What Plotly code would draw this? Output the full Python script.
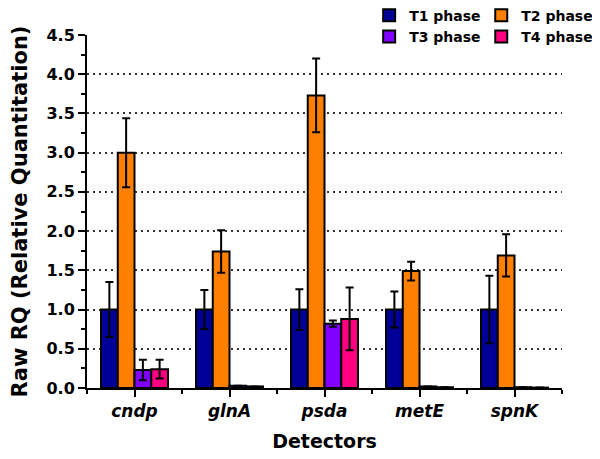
import plotly.graph_objects as go

categories = ["cndp", "glnA", "psda", "metE", "spnK"]
series_names = ["T1 phase", "T2 phase", "T3 phase", "T4 phase"]
t1_values = [1.0, 1.0, 1.0, 1.0, 1.0]
t1_errors = [0.35, 0.25, 0.26, 0.23, 0.43]
t2_values = [3.0, 1.74, 3.73, 1.49, 1.69]
t2_errors = [0.44, 0.27, 0.47, 0.12, 0.27]
t3_values = [0.23, 0.03, 0.82, 0.02, 0.01]
t3_errors = [0.13, 0.0, 0.04, 0.0, 0.0]
t4_values = [0.24, 0.02, 0.88, 0.01, 0.005]
t4_errors = [0.12, 0.0, 0.40, 0.0, 0.0]
y_ticks = [0.0, 0.5, 1.0, 1.5, 2.0, 2.5, 3.0, 3.5, 4.0, 4.5]

colors = ["#000096", "#FF8000", "#8000FF", "#FF0080"]
values = [t1_values, t2_values, t3_values, t4_values]
errors = [t1_errors, t2_errors, t3_errors, t4_errors]
legend_ids = ["legend", "legend2", "legend", "legend2"]

FONT = "DejaVu Sans"
x_pos = list(range(len(categories)))

fig = go.Figure()
for name, vals, errs, col, lg in zip(series_names, values, errors, colors, legend_ids):
    fig.add_trace(go.Bar(
        name=name, x=x_pos, y=vals,
        marker=dict(color=col, line=dict(color="black", width=2)),
        error_y=dict(type="data", array=errs, visible=True,
                     color="black", thickness=2, width=4),
        legend=lg,
    ))

legend_common = dict(
    orientation="v", yanchor="top", xanchor="left",
    font=dict(family=FONT, size=14, color="black", weight="bold"),
    bgcolor="rgba(0,0,0,0)", borderwidth=0, tracegroupgap=0,
    itemclick=False, itemdoubleclick=False,
)

fig.update_layout(
    width=600, height=459,
    margin=dict(l=79, r=46, t=27, b=79, autoexpand=False),
    plot_bgcolor="white", paper_bgcolor="white",
    barmode="group", bargap=0.295, bargroupgap=0.0,
    font=dict(family=FONT, color="black"),
    legend=dict(x=0.594, y=1.100, **legend_common),
    legend2=dict(x=0.830, y=1.100, **legend_common),
    xaxis=dict(
        range=[-0.5, 4.5],
        tickmode="array", tickvals=x_pos, ticktext=categories,
        tickfont=dict(family=FONT, size=17, color="black", weight="bold", style="italic"),
        ticks="outside", ticklen=7, tickwidth=2, tickcolor="black",
        minor=dict(tickmode="linear", tick0=-0.5, dtick=1, ticks="outside",
                   ticklen=4, tickwidth=2, tickcolor="black"),
        showline=True, linecolor="black", linewidth=2,
        showgrid=False, zeroline=False,
        title=dict(text="Detectors", font=dict(family=FONT, size=19, color="black", weight="bold"),
                   standoff=14),
    ),
    yaxis=dict(
        range=[0, 4.5],
        tickmode="array", tickvals=y_ticks, tickformat=".1f",
        tickfont=dict(family=FONT, size=16, color="black", weight="bold"),
        ticks="outside", ticklen=7, tickwidth=2, tickcolor="black",
        minor=dict(tickmode="linear", tick0=0, dtick=0.25, ticks="outside",
                   ticklen=4, tickwidth=2, tickcolor="black"),
        showline=True, linecolor="black", linewidth=2,
        showgrid=True, gridcolor="#333333", gridwidth=1.5, griddash="2px,4px",
        zeroline=False,
        title=dict(text="Raw RQ (Relative Quantitation)",
                   font=dict(family=FONT, size=21, color="black", weight="bold")),
    ),
)

fig.write_html("out.html")
